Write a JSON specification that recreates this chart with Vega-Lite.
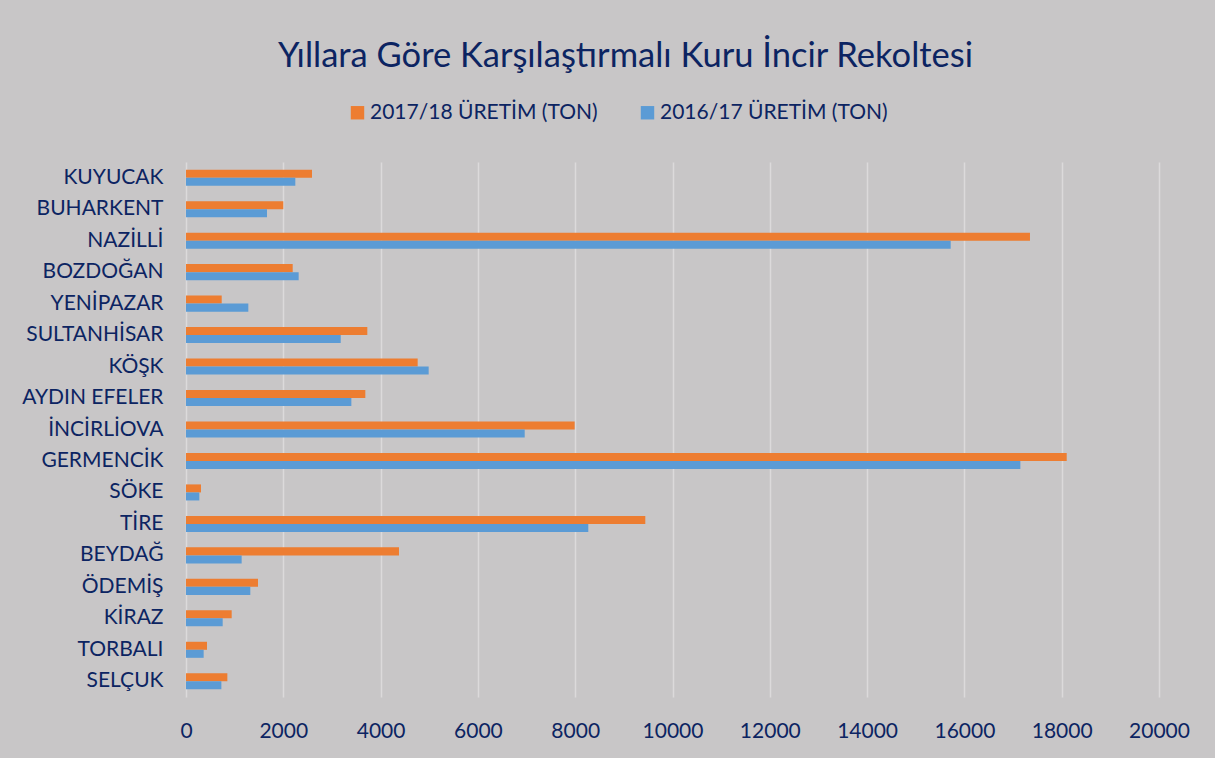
{
  "$schema": "https://vega.github.io/schema/vega-lite/v6.json",
  "autosize": {"type": "none"},
  "width": 973,
  "height": 535,
  "padding": {"left": 186, "top": 162, "right": 56, "bottom": 61},
  "background": "#C8C6C7",
  "title": {
    "text": "Yıllara Göre Karşılaştırmalı Kuru İncir Rekoltesi",
    "font": "Lato",
    "fontSize": 34.5,
    "fontWeight": "normal",
    "color": "#0C2462",
    "anchor": "middle",
    "frame": "group",
    "dx": -47,
    "offset": 28
  },
  "data": {
    "values": [
      {"ilce": "KUYUCAK", "seri": "2017/18 ÜRETİM (TON)", "ton": 2590},
      {"ilce": "KUYUCAK", "seri": "2016/17 ÜRETİM (TON)", "ton": 2247},
      {"ilce": "BUHARKENT", "seri": "2017/18 ÜRETİM (TON)", "ton": 2000},
      {"ilce": "BUHARKENT", "seri": "2016/17 ÜRETİM (TON)", "ton": 1665},
      {"ilce": "NAZİLLİ", "seri": "2017/18 ÜRETİM (TON)", "ton": 17348},
      {"ilce": "NAZİLLİ", "seri": "2016/17 ÜRETİM (TON)", "ton": 15718},
      {"ilce": "BOZDOĞAN", "seri": "2017/18 ÜRETİM (TON)", "ton": 2193},
      {"ilce": "BOZDOĞAN", "seri": "2016/17 ÜRETİM (TON)", "ton": 2316},
      {"ilce": "YENİPAZAR", "seri": "2017/18 ÜRETİM (TON)", "ton": 734},
      {"ilce": "YENİPAZAR", "seri": "2016/17 ÜRETİM (TON)", "ton": 1281},
      {"ilce": "SULTANHİSAR", "seri": "2017/18 ÜRETİM (TON)", "ton": 3727},
      {"ilce": "SULTANHİSAR", "seri": "2016/17 ÜRETİM (TON)", "ton": 3180},
      {"ilce": "KÖŞK", "seri": "2017/18 ÜRETİM (TON)", "ton": 4762},
      {"ilce": "KÖŞK", "seri": "2016/17 ÜRETİM (TON)", "ton": 4988},
      {"ilce": "AYDIN EFELER", "seri": "2017/18 ÜRETİM (TON)", "ton": 3686},
      {"ilce": "AYDIN EFELER", "seri": "2016/17 ÜRETİM (TON)", "ton": 3399},
      {"ilce": "İNCİRLİOVA", "seri": "2017/18 ÜRETİM (TON)", "ton": 7989},
      {"ilce": "İNCİRLİOVA", "seri": "2016/17 ÜRETİM (TON)", "ton": 6962},
      {"ilce": "GERMENCİK", "seri": "2017/18 ÜRETİM (TON)", "ton": 18103},
      {"ilce": "GERMENCİK", "seri": "2016/17 ÜRETİM (TON)", "ton": 17150},
      {"ilce": "SÖKE", "seri": "2017/18 ÜRETİM (TON)", "ton": 308},
      {"ilce": "SÖKE", "seri": "2016/17 ÜRETİM (TON)", "ton": 274},
      {"ilce": "TİRE", "seri": "2017/18 ÜRETİM (TON)", "ton": 9441},
      {"ilce": "TİRE", "seri": "2016/17 ÜRETİM (TON)", "ton": 8269},
      {"ilce": "BEYDAĞ", "seri": "2017/18 ÜRETİM (TON)", "ton": 4378},
      {"ilce": "BEYDAĞ", "seri": "2016/17 ÜRETİM (TON)", "ton": 1144},
      {"ilce": "ÖDEMİŞ", "seri": "2017/18 ÜRETİM (TON)", "ton": 1480},
      {"ilce": "ÖDEMİŞ", "seri": "2016/17 ÜRETİM (TON)", "ton": 1322},
      {"ilce": "KİRAZ", "seri": "2017/18 ÜRETİM (TON)", "ton": 939},
      {"ilce": "KİRAZ", "seri": "2016/17 ÜRETİM (TON)", "ton": 754},
      {"ilce": "TORBALI", "seri": "2017/18 ÜRETİM (TON)", "ton": 432},
      {"ilce": "TORBALI", "seri": "2016/17 ÜRETİM (TON)", "ton": 363},
      {"ilce": "SELÇUK", "seri": "2017/18 ÜRETİM (TON)", "ton": 850},
      {"ilce": "SELÇUK", "seri": "2016/17 ÜRETİM (TON)", "ton": 727}
    ]
  },
  "mark": {"type": "bar", "stroke": null},
  "encoding": {
    "y": {
      "field": "ilce",
      "type": "nominal",
      "sort": ["KUYUCAK", "BUHARKENT", "NAZİLLİ", "BOZDOĞAN", "YENİPAZAR", "SULTANHİSAR", "KÖŞK", "AYDIN EFELER", "İNCİRLİOVA", "GERMENCİK", "SÖKE", "TİRE", "BEYDAĞ", "ÖDEMİŞ", "KİRAZ", "TORBALI", "SELÇUK"],
      "scale": {"paddingInner": 0.49, "paddingOuter": 0.245},
      "axis": {
        "title": null,
        "domain": false,
        "ticks": false,
        "labelPadding": 23,
        "labelFont": "Lato",
        "labelFontSize": 21,
        "labelLimit": 0,
        "labelColor": "#0C2462",
        "grid": false
      }
    },
    "yOffset": {
      "field": "seri",
      "type": "nominal",
      "sort": ["2017/18 ÜRETİM (TON)", "2016/17 ÜRETİM (TON)"],
      "scale": {"paddingInner": 0, "paddingOuter": 0}
    },
    "x": {
      "field": "ton",
      "type": "quantitative",
      "scale": {"domain": [0, 20000], "nice": false},
      "axis": {
        "title": null,
        "values": [0, 2000, 4000, 6000, 8000, 10000, 12000, 14000, 16000, 18000, 20000],
        "format": "d",
        "domain": false,
        "ticks": false,
        "labelFlush": false,
        "labelBound": false,
        "labelOverlap": false,
        "labelPadding": 23,
        "labelFont": "Lato",
        "labelFontSize": 21,
        "labelColor": "#0C2462",
        "gridColor": "#DCDADB",
        "gridWidth": 1.5,
        "gridOpacity": 1
      }
    },
    "color": {
      "field": "seri",
      "type": "nominal",
      "scale": {"domain": ["2017/18 ÜRETİM (TON)", "2016/17 ÜRETİM (TON)"], "range": ["#ED7D31", "#5B9BD5"]},
      "legend": {
        "title": null,
        "orient": "none",
        "direction": "horizontal",
        "legendX": 161,
        "legendY": -60,
        "symbolType": "square",
        "symbolSize": 180,
        "symbolStrokeWidth": 0,
        "symbolOpacity": 1,
        "labelFont": "Lato",
        "labelFontSize": 21,
        "labelLimit": 0,
        "labelColor": "#0C2462",
        "labelOffset": 2,
        "columnPadding": 39
      }
    }
  },
  "config": {
    "view": {"stroke": null},
    "bar": {"strokeWidth": 0}
  }
}
